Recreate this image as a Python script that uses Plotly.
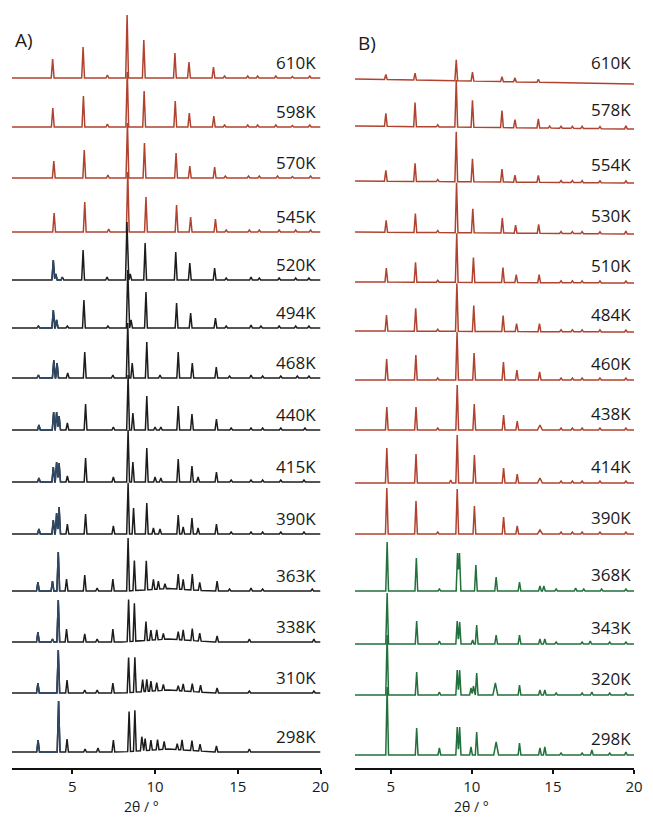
import plotly.graph_objects as go

# ---------------- data (2theta in degrees, intensity in arbitrary units) ----------------
# Panel A: temperatures (top -> bottom), stacking offsets and peak lists (pos, height[, halfwidth])
TEMPS_A = ["610K", "598K", "570K", "545K", "520K", "494K", "468K",
           "440K", "415K", "390K", "363K", "338K", "310K", "298K"]
OFFSETS_A = [690, 641, 590, 536, 488, 440, 390, 338, 286, 234, 177, 126, 75, 16]
GROUP_A = ["hot", "hot", "hot", "hot", "cold", "cold", "cold",
           "cold", "cold", "cold", "cold", "cold", "cold", "cold"]

A610 = [(3.81, 19), (5.65, 31), (7.12, 3), (8.31, 63), (9.32, 38), (11.2, 25), (12.05, 16),
        (13.53, 11), (14.2, 2), (15.6, 2), (16.2, 2), (17.3, 2), (18.3, 1.5), (19.35, 2)]
A598 = [(3.82, 19), (5.67, 31), (7.12, 3), (8.32, 55), (9.34, 36), (11.22, 26), (12.07, 14),
        (13.55, 11), (14.2, 2), (15.6, 2), (16.2, 2), (17.3, 2), (18.3, 1.5), (19.35, 2)]
A570 = [(3.88, 17), (5.72, 28), (7.15, 3), (8.33, 55), (9.36, 35), (11.27, 25), (12.1, 12),
        (13.6, 11), (14.25, 2), (15.65, 2), (16.3, 2), (17.4, 2), (18.3, 1.5), (19.4, 2)]
A545 = [(3.9, 19), (5.75, 30), (7.2, 3), (8.35, 60), (9.45, 35), (11.3, 27), (12.15, 15),
        (13.65, 13), (14.3, 2), (15.7, 2), (16.3, 2), (17.5, 2), (18.5, 2), (19.4, 2)]
A520 = [(3.85, 20), (4.0, 6), (4.4, 3), (5.65, 30), (7.1, 3), (8.3, 58), (8.5, 6), (9.4, 37),
        (11.25, 28), (12.1, 17), (13.6, 12), (14.3, 2), (15.8, 3), (16.3, 2), (17.5, 2),
        (18.5, 2), (19.3, 2)]
A494 = [(2.95, 2), (3.85, 18), (4.05, 8), (4.7, 2), (5.7, 28), (7.15, 2), (8.35, 58), (8.55, 8),
        (9.45, 36), (11.3, 25), (12.15, 15), (13.65, 10), (14.3, 2), (15.8, 3), (16.4, 2),
        (17.5, 2), (18.5, 2), (19.3, 2)]
A468 = [(2.95, 3), (3.88, 18), (4.08, 15), (4.72, 5), (5.75, 26), (7.45, 3), (8.35, 55),
        (8.62, 15), (9.5, 36), (10.3, 3), (11.4, 26), (12.25, 15), (13.7, 11), (14.5, 2),
        (15.8, 3), (16.5, 2), (17.6, 2), (18.6, 2), (19.3, 2)]
A440 = [(2.98, 5), (3.87, 18), (4.05, 18), (4.2, 14), (4.7, 7), (5.8, 26), (7.48, 3), (8.37, 55),
        (8.66, 17), (9.5, 34), (10.0, 3), (10.35, 3), (11.4, 24), (12.23, 16), (13.71, 11),
        (14.6, 2), (15.8, 2), (16.5, 2), (17.6, 2), (19.06, 2)]
A415 = [(2.98, 4), (3.85, 15), (4.05, 20), (4.2, 19), (4.7, 6), (5.8, 24), (7.48, 5), (8.37, 52),
        (8.66, 20), (9.5, 34), (10.0, 5), (10.35, 4), (11.4, 23), (12.23, 16), (12.6, 5),
        (13.71, 10), (14.6, 2), (15.8, 2), (16.5, 2), (17.6, 2), (19.0, 2)]
A390 = [(2.98, 5), (3.85, 14), (4.05, 21), (4.2, 27), (4.7, 10), (5.8, 20), (7.48, 8), (8.37, 51),
        (8.7, 26), (9.5, 31), (9.9, 6), (10.3, 5), (11.4, 19), (11.7, 7), (12.23, 16), (12.6, 6),
        (13.71, 10), (14.6, 2), (15.8, 2), (16.5, 2), (17.6, 2), (19.0, 2)]
A363 = [(2.92, 9), (3.8, 10), (4.15, 39), (4.65, 12), (5.75, 16), (6.5, 3), (7.45, 12),
        (8.37, 53), (8.75, 30), (9.47, 29), (9.9, 10), (10.2, 8), (10.6, 5), (11.4, 15),
        (11.7, 10), (12.25, 16), (12.7, 8), (13.75, 10), (14.5, 2), (15.8, 3), (16.5, 2),
        (19.5, 2), (10.8, 2.5, 2.5)]
A338 = [(2.92, 10), (3.8, 3), (4.15, 42), (4.65, 13), (5.75, 8), (6.5, 3), (7.45, 13), (8.4, 42),
        (8.75, 38), (9.45, 19), (9.75, 10), (10.1, 10), (10.5, 6), (11.4, 8), (11.7, 10),
        (12.25, 12), (12.7, 8), (13.75, 6), (15.7, 3), (19.6, 3), (10.8, 3, 2.8)]
A310 = [(2.92, 10), (4.15, 43), (4.68, 13), (5.75, 3), (6.5, 3), (7.45, 10), (8.4, 35),
        (8.78, 35), (9.25, 12), (9.5, 12), (9.75, 10), (10.1, 8), (10.5, 6), (11.4, 5),
        (11.7, 7), (12.25, 8), (12.75, 7), (13.75, 5), (15.7, 2), (19.6, 2), (10.8, 3, 2.8)]
A298 = [(2.93, 12), (4.17, 51), (4.68, 13), (5.77, 3), (6.55, 4), (7.48, 12), (8.43, 40),
        (8.78, 41), (9.2, 14), (9.4, 12), (9.75, 10), (10.15, 10), (10.55, 8), (11.34, 6),
        (11.63, 10), (12.23, 10), (12.72, 7), (13.71, 6), (15.7, 3), (10.8, 3, 2.8)]
PEAKS_A = [A610, A598, A570, A545, A520, A494, A468, A440, A415, A390, A363, A338, A310, A298]

# Panel B
TEMPS_B = ["610K", "578K", "554K", "530K", "510K", "484K", "460K",
           "438K", "414K", "390K", "368K", "343K", "320K", "298K"]
OFFSETS_B = [689, 642, 587, 536, 486, 437, 388, 338, 285, 234, 177, 124, 73, 13]
GROUP_B = ["hot"] * 10 + ["green"] * 4
BG_DROP_B = [-5, -3, -2, -2, -1, -1, 0, 0, 0, 0, 0, 0, 0, 0]

B610 = [(4.7, 5), (6.5, 7), (9.04, 21), (10.04, 9), (11.86, 5), (12.66, 4), (14.1, 3)]
B578 = [(4.7, 13), (6.5, 24), (7.9, 2), (9.04, 47), (10.04, 27), (11.86, 17), (12.66, 8),
        (14.1, 9), (14.8, 2), (15.5, 2), (16.2, 2), (16.8, 2), (17.9, 2), (19.5, 3)]
B554 = [(4.7, 11), (6.5, 18), (7.9, 2), (9.04, 50), (10.04, 23), (11.86, 13), (12.66, 7),
        (14.1, 7), (15.5, 2), (16.2, 2), (16.8, 2), (17.9, 2), (19.5, 2)]
B530 = [(4.72, 12), (6.52, 19), (7.9, 2), (9.06, 50), (10.06, 24), (11.88, 15), (12.7, 8),
        (14.12, 9), (15.5, 2), (16.2, 2), (16.8, 2), (17.9, 2), (19.5, 3)]
B510 = [(4.73, 14), (6.53, 20), (7.9, 2), (9.07, 49), (10.1, 25), (11.92, 15), (12.74, 8),
        (14.15, 8), (15.5, 2), (16.2, 2), (16.8, 2), (17.9, 2), (19.5, 2)]
B484 = [(4.74, 16), (6.54, 23), (7.9, 2), (9.08, 48), (10.12, 26), (11.93, 16), (12.76, 8),
        (14.17, 8), (15.5, 2), (16.2, 2), (16.8, 2), (17.9, 2), (19.5, 2)]
B460 = [(4.75, 21), (6.55, 25), (7.9, 2), (9.09, 48), (10.14, 27), (11.95, 18), (12.78, 10),
        (14.18, 8), (15.5, 2), (16.2, 2), (16.8, 2), (17.9, 2), (19.5, 2)]
B438 = [(4.76, 23), (6.56, 23), (7.9, 2), (9.1, 45), (10.15, 26), (11.96, 15), (12.8, 9),
        (14.2, 5, 0.15), (15.5, 2), (16.2, 2), (16.8, 2), (17.9, 2), (19.5, 2)]
B414 = [(4.76, 35), (6.56, 29), (8.7, 3), (9.1, 48), (10.16, 28), (11.96, 15), (12.8, 9),
        (14.2, 5, 0.15), (15.5, 2), (16.2, 2), (16.8, 2), (17.9, 2), (19.5, 2)]
B390 = [(4.76, 46), (6.56, 33), (7.9, 2), (9.1, 45), (10.16, 28), (11.96, 17), (12.8, 8),
        (14.2, 4, 0.15), (15.5, 2), (16.2, 2), (16.8, 2), (17.9, 2), (19.5, 2)]
B368 = [(4.78, 49), (6.58, 33), (8.0, 2), (9.12, 38), (9.24, 38), (10.25, 26), (11.5, 14),
        (12.94, 9), (14.2, 5), (14.44, 5), (15.2, 2), (16.4, 3), (16.9, 2), (18.0, 2), (19.5, 2)]
B343 = [(4.78, 51), (6.6, 23), (8.0, 3), (9.1, 23), (9.25, 22), (10.05, 4), (10.3, 19),
        (11.5, 9), (12.94, 9), (14.2, 5), (14.5, 5), (15.2, 2), (16.8, 2), (17.3, 3), (18.5, 2),
        (19.5, 2)]
B320 = [(4.78, 60), (6.6, 23), (8.0, 3), (9.1, 25), (9.25, 25), (9.95, 7), (10.1, 9), (10.3, 22),
        (11.45, 12, 0.15), (12.94, 10), (14.2, 5), (14.5, 5), (15.2, 2), (16.8, 2), (17.4, 3),
        (18.5, 2), (19.5, 2)]
B298 = [(4.78, 68), (6.6, 27), (8.0, 7), (9.1, 28), (9.25, 28), (9.95, 8), (10.3, 23),
        (11.5, 13, 0.15), (12.94, 12), (14.2, 7), (14.5, 8), (15.5, 2), (16.8, 2), (17.4, 5),
        (18.5, 2), (19.5, 3)]
PEAKS_B = [B610, B578, B554, B530, B510, B484, B460, B438, B414, B390, B368, B343, B320, B298]

X_TICKS = [5, 10, 15, 20]
RANGE_A = [1.35, 20.0]
RANGE_B = [2.8, 20.0]
BLUE_WINDOW_A = [2.7, 4.45]       # low-angle region printed in a bluish tone in panel A

# ---------------- styling / layout ----------------
COLORS = {"hot": "#b0432f", "cold": "#1c1c1e", "green": "#22703c", "blue": "#2e4765"}
FONT = "Open Sans"
HALF_WIDTH = 0.085
PAGE_PAD = 8                      # browser body margin around the figure
FIG_W, FIG_H = 653 - 2 * PAGE_PAD, 820 - PAGE_PAD
AXIS_PX = 768 - PAGE_PAD          # x-axis line position inside the figure
Y_TOP = AXIS_PX                   # y value at the top edge of the figure


def fx(px):   # page x pixel -> paper fraction
    return (px - PAGE_PAD) / FIG_W


def fy(py):   # page y pixel -> paper fraction
    return (FIG_H - (py - PAGE_PAD)) / FIG_H


def pattern(peaks, xr, bg_drop=0.0):
    """Piecewise-linear pattern: sum of triangular peaks evaluated at their breakpoints."""
    lo, hi = xr
    xs = {lo, hi}
    norm = []
    for pk in peaks:
        p, h = pk[0], pk[1]
        w = pk[2] if len(pk) > 2 else HALF_WIDTH
        norm.append((p, h, w))
        for x in (p - w, p, p + w):
            if lo <= x <= hi:
                xs.add(round(x, 4))
    xs = sorted(xs)
    ys = []
    for x in xs:
        y = bg_drop * (x - lo) / (hi - lo)
        for p, h, w in norm:
            d = abs(x - p)
            if d < w:
                y += h * (1 - d / w)
        ys.append(y)
    return xs, ys


fig = go.Figure()

for name, off, grp, pk in zip(TEMPS_A, OFFSETS_A, GROUP_A, PEAKS_A):
    xs, ys = pattern(pk, RANGE_A)
    yy = [v + off for v in ys]
    fig.add_trace(go.Scatter(x=xs, y=yy, mode="lines",
                             line=dict(color=COLORS[grp], width=1.5),
                             xaxis="x", yaxis="y", showlegend=False, hoverinfo="skip"))
    if grp == "cold":
        sel = [(a, b) for a, b in zip(xs, yy) if BLUE_WINDOW_A[0] <= a <= BLUE_WINDOW_A[1]]
        fig.add_trace(go.Scatter(x=[a for a, _ in sel], y=[b for _, b in sel], mode="lines",
                                 line=dict(color=COLORS["blue"], width=1.5),
                                 xaxis="x", yaxis="y", showlegend=False, hoverinfo="skip"))
    fig.add_annotation(x=19.85, y=off + 16, xref="x", yref="y", text=name, showarrow=False,
                       xanchor="right", yanchor="middle",
                       font=dict(family=FONT, size=17, color="#1a1a1a"))

for name, off, grp, drop, pk in zip(TEMPS_B, OFFSETS_B, GROUP_B, BG_DROP_B, PEAKS_B):
    xs, ys = pattern(pk, RANGE_B, drop)
    fig.add_trace(go.Scatter(x=xs, y=[v + off for v in ys], mode="lines",
                             line=dict(color=COLORS[grp], width=1.5),
                             xaxis="x2", yaxis="y2", showlegend=False, hoverinfo="skip"))
    fig.add_annotation(x=19.95, y=off + 17, xref="x2", yref="y2", text=name, showarrow=False,
                       xanchor="right", yanchor="middle",
                       font=dict(family=FONT, size=17, color="#1a1a1a"))

axis_common = dict(tickvals=X_TICKS, ticks="outside", ticklen=4, tickwidth=1.5,
                   tickcolor="#111", showline=True, linewidth=2, linecolor="#111",
                   showgrid=False, zeroline=False,
                   tickfont=dict(family=FONT, size=15, color="#1a1a1a"))
ydom = [(FIG_H - AXIS_PX) / FIG_H, 1.0]
fig.update_layout(
    width=FIG_W, height=FIG_H,
    margin=dict(l=0, r=0, t=0, b=0),
    paper_bgcolor="white", plot_bgcolor="white",
    xaxis=dict(domain=[fx(12), fx(325)], range=RANGE_A, anchor="y", **axis_common),
    xaxis2=dict(domain=[fx(360), fx(643)], range=RANGE_B, anchor="y2", **axis_common),
    yaxis=dict(domain=ydom, range=[0, Y_TOP], visible=False, anchor="x"),
    yaxis2=dict(domain=ydom, range=[0, Y_TOP], visible=False, anchor="x2"),
)

for xp, txt in [(143, "2θ / °"), (478, "2θ / °")]:
    fig.add_annotation(x=fx(xp), y=fy(806), xref="paper", yref="paper", text=txt,
                       showarrow=False, xanchor="center", yanchor="middle", borderpad=0,
                       font=dict(family=FONT, size=14, color="#1a1a1a"))
for xp, yp, txt in [(24, 40, "A)"), (372, 43, "B)")]:
    fig.add_annotation(x=fx(xp), y=fy(yp), xref="paper", yref="paper", text=txt,
                       showarrow=False, xanchor="center", yanchor="middle",
                       font=dict(family=FONT, size=19, color="#1a1a1a"))

fig.write_html("out.html")
